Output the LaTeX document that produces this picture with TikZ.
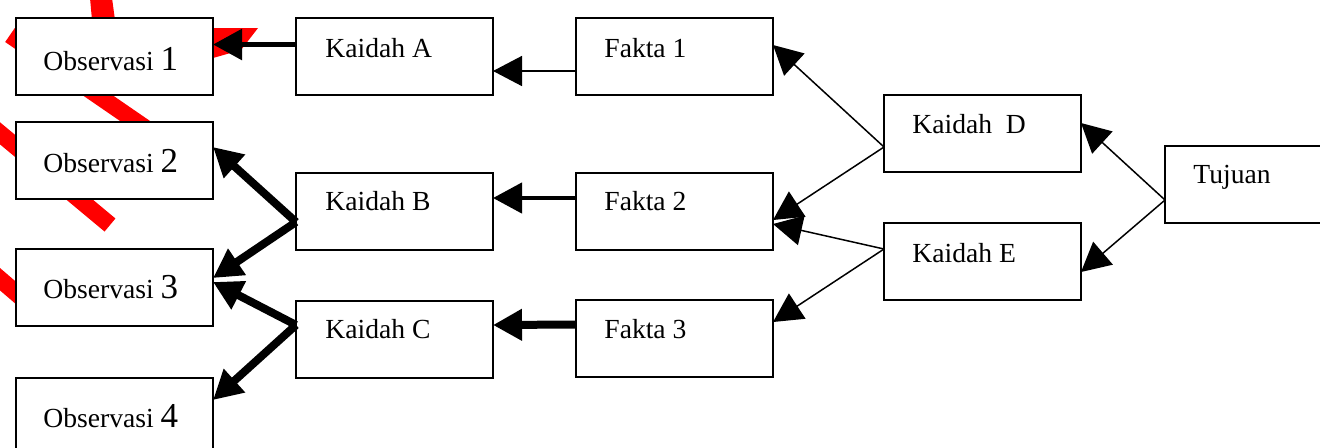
\documentclass[tikz,border=0pt]{standalone}
\usepackage{fontspec}
\setmainfont{Liberation Serif}
\usetikzlibrary{arrows.meta}
\begin{document}
\begin{tikzpicture}[x=0.5pt,y=-0.5pt,
  box/.style={draw=black,line width=1pt,fill=white,minimum width=98.5pt,
    minimum height=38.5pt,inner sep=0pt,outer sep=0pt},
  lbl/.style={anchor=base west,inner sep=0pt,font=\fontsize{13.8}{16}\selectfont},
  con/.style={-{Triangle[length=14.5pt,width=15pt]},line join=miter},
  hair/.style={con,line width=0.75pt},
  redband/.style={draw=red,line width=8.5pt}
]
\useasboundingbox (0,0) rectangle (1320,447);
\clip (0,0) rectangle (1320,447);

% red strokes lying under the boxes
\fill[red] (90,-2) -- (112,-2) -- (115,20) -- (92,20) -- cycle;
\fill[red] (213,28) -- (258,28) -- (241,50) -- (213,58) -- cycle;
\draw[redband] (10,35) -- (170,145);
\draw[redband] (-10,125) -- (110,225);
\draw[redband] (-20,262) -- (30,305);

% boxes
\node[box] (o1) at (114.5,56.5) {};
\node[box] (o2) at (114.5,160.5) {};
\node[box] (o3) at (114.5,287) {};
\node[box] (o4) at (114.5,416.5) {};
\node[box] (kA) at (394.5,56.5) {};
\node[box] (kB) at (394.5,211) {};
\node[box] (kC) at (394.5,339) {};
\node[box] (f1) at (674.5,56.5) {};
\node[box] (f2) at (674.5,211) {};
\node[box] (f3) at (674.5,338.5) {};
\node[box] (kD) at (982.5,133.5) {};
\node[box] (kE) at (982.5,261.5) {};
\node[box] (tj) at (1263.5,184.5) {};

% labels
\newcommand{\obsnum}[1]{{\fontsize{17.5}{20}\selectfont #1}}
\node[lbl] (o1t) at (43,70) {Observasi \obsnum{1}};
\node[lbl] (o2t) at (43,172) {Observasi \obsnum{2}};
\node[lbl] (o3t) at (43,298) {Observasi \obsnum{3}};
\node[lbl] (o4t) at (43,427) {Observasi \obsnum{4}};
\node[lbl] (kAt) at (325,57) {Kaidah A};
\node[lbl] (kBt) at (325,210) {Kaidah B};
\node[lbl] (kCt) at (325,338) {Kaidah C};
\node[lbl] (f1t) at (604,57) {Fakta 1};
\node[lbl] (f2t) at (604,210) {Fakta 2};
\node[lbl] (f3t) at (604,338) {Fakta 3};
\node[lbl] (kDt) at (912,133) {Kaidah\ \ D};
\node[lbl] (kEt) at (912,262) {Kaidah E};
\node[lbl] (tjt) at (1193,183) {Tujuan};

% rules to observations
\draw[con,line width=2.8pt] ([yshift=6pt]kA.west) -- ([yshift=6pt]o1.east);
\draw[con,line width=4pt] ([yshift=-5.5pt]kB.west) -- ([yshift=6.75pt]o2.east);
\draw[con,line width=4pt] ([yshift=-5.5pt]kB.west) -- ([yshift=4.5pt]o3.east);
\draw[con,line width=4pt] ([yshift=7pt]kC.west) -- ([yshift=2.5pt]o3.east);
\draw[con,line width=4pt] ([yshift=7pt]kC.west) -- ([yshift=8.25pt]o4.east);

% facts to rules
\draw[hair] ([yshift=-7.25pt]f1.west) -- ([yshift=-7.25pt]kA.east);
\draw[con,line width=2.2pt] ([yshift=6.5pt]f2.west) -- ([yshift=6.5pt]kB.east);
\draw[con,line width=4pt] ([yshift=7pt]f3.west) -- ([yshift=7pt]kC.east);

% rules D and E to facts
\draw[hair] ([yshift=-6.75pt]kD.west) -- ([yshift=5.75pt]f1.east);
\draw[hair] ([yshift=-6.75pt]kD.west) -- ([yshift=-4.5pt]f2.east);
\draw[hair] ([yshift=6.25pt]kE.west) -- ([yshift=-6.5pt]f2.east);
\draw[hair] ([yshift=6.25pt]kE.west) -- ([yshift=8.25pt]f3.east);

% goal to rules D and E
\draw[hair] ([yshift=-7.75pt]tj.west) -- ([yshift=5.25pt]kD.east);
\draw[hair] ([yshift=-7.75pt]tj.west) -- ([yshift=-5.25pt]kE.east);
\end{tikzpicture}
\end{document}
